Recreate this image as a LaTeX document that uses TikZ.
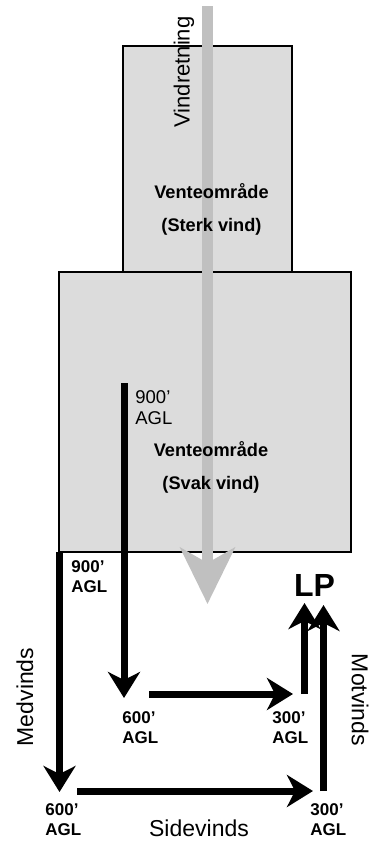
\documentclass[tikz,border=0pt]{standalone}
\usepackage{fontspec}
\setmainfont{Liberation Sans}
\usepackage{tikz}
\usetikzlibrary{arrows.meta}
\definecolor{zonegray}{RGB}{220,220,220}
\definecolor{windgray}{RGB}{192,192,192}

\begin{document}
\begin{tikzpicture}[x=0.5pt, y=-0.5pt,
    zone/.style={draw=black, line width=0.6pt, fill=zonegray},
    zonetext/.style={font=\bfseries\fontsize{9.1}{16.5}\selectfont, align=center, inner sep=0pt},
    route/.style={line width=3.5pt, -{Stealth[length=13pt, width=16pt, inset=4pt]}},
    alt/.style={font=\bfseries\fontsize{8.5}{10}\selectfont, align=left, anchor=west, inner sep=0pt},
    leg/.style={font=\fontsize{11.5}{13}\selectfont, inner sep=0pt}]
    \useasboundingbox (0,0) rectangle (385,841);

    % Holding areas
    \draw[zone] (123,46) rectangle (292,272);
    \draw[zone] (59,272) rectangle (351,552);

    % Wind direction
    \coordinate (windtop) at (207.5,6);
    \coordinate (windtip) at (207.5,604);
    \draw[windgray, line width=5.8pt, -{Stealth[length=28pt, width=27pt, inset=7.5pt]}] (windtop) -- (windtip);
    \node[leg, font=\fontsize{11}{13}\selectfont, rotate=90] (wind) at (184,72) {Vindretning};

    \node[zonetext] (strong) at (211.5,209) {Venteområde\\(Sterk vind)};
    \node[zonetext] (weak) at (211,467.5) {Venteområde\\(Svak vind)};

    % Short pattern
    \coordinate (s900) at (124,383);
    \coordinate (s600) at (124,698);
    \coordinate (s600r) at (149,694);
    \coordinate (s300) at (293,694);
    \coordinate (s300u) at (304.5,694);
    \coordinate (slp) at (304.5,603);
    \draw[route] (s900) -- (s600);
    \draw[route] (s600r) -- (s300);
    \draw[route] (s300u) -- (slp);

    % Long pattern
    \coordinate (l900) at (59.5,552);
    \coordinate (l600) at (59.5,792);
    \coordinate (l600r) at (77,791);
    \coordinate (l300) at (313,791);
    \coordinate (l300u) at (323.5,791);
    \coordinate (llp) at (323.5,605);
    \draw[route] (l900) -- (l600);
    \draw[route] (l600r) -- (l300);
    \draw[route] (l300u) -- (llp);

    % Altitudes
    \node[alt, font=\fontsize{9.25}{10.5}\selectfont] (alt900s) at (135,407.5) {900’\\AGL};
    \node[alt] (alt900l) at (71,577) {900’\\AGL};
    \node[alt] (alt600s) at (122,728) {600’\\AGL};
    \node[alt] (alt300s) at (272,728) {300’\\AGL};
    \node[alt] (alt600l) at (45,820) {600’\\AGL};
    \node[alt] (alt300l) at (310,820) {300’\\AGL};

    \node[font=\bfseries\fontsize{16}{18}\selectfont, anchor=base, inner sep=0pt] (lp) at (314.5,596) {LP};

    % Legs
    \node[leg, rotate=90] (down) at (25,697) {Medvinds};
    \node[leg, rotate=-90] (up) at (360,700) {Motvinds};
    \node[leg, anchor=base] (base) at (199,836) {Sidevinds};
\end{tikzpicture}
\end{document}
